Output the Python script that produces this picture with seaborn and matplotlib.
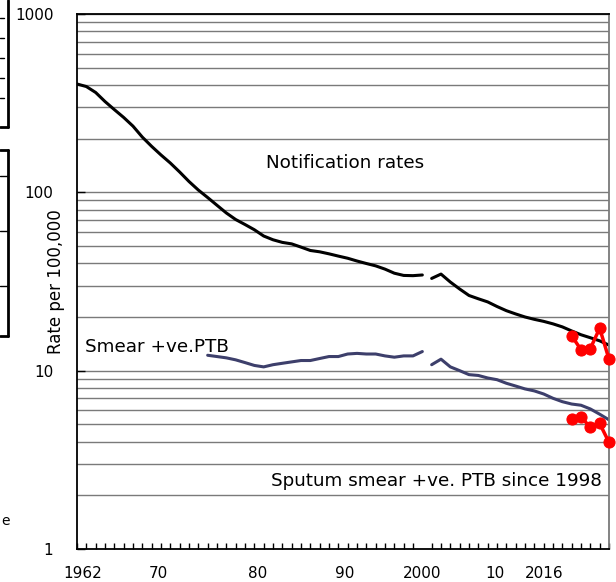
import numpy as np
import pandas as pd
import matplotlib.pyplot as plt
import seaborn as sns
from matplotlib.lines import Line2D
from matplotlib.ticker import LogLocator, FixedLocator, MultipleLocator, NullFormatter

# data: rates per 100,000
years_old = list(range(1962, 2000))
notif_old = [405, 392, 363, 323, 291, 263, 235, 204, 181, 162, 146, 130, 115, 103, 93.5,
             84.6, 76.6, 70.4, 66.0, 61.7, 56.9, 54.2, 52.4, 51.4, 49.3, 47.2, 46.4, 45.2,
             43.9, 42.7, 41.2, 39.9, 38.7, 37.1, 35.2, 34.2, 34.1, 34.4]
years_new = list(range(2000, 2020))
notif_new = [32.9, 34.8, 31.4, 28.7, 26.4, 25.3, 24.3, 22.9, 21.7, 20.8, 20.0, 19.4, 18.9,
             18.3, 17.6, 16.7, 15.9, 15.3, 14.7, 13.9]
smear_years_old = list(range(1976, 2000))
smear_old = [12.2, 12.0, 11.8, 11.5, 11.1, 10.7, 10.5, 10.8, 11.0, 11.2, 11.4, 11.4, 11.7,
             12.0, 12.0, 12.4, 12.5, 12.4, 12.4, 12.1, 11.9, 12.1, 12.1, 12.8]
smear_new = [10.8, 11.6, 10.5, 10.0, 9.5, 9.4, 9.1, 8.9, 8.5, 8.2, 7.9, 7.7, 7.4, 7.0,
             6.7, 6.5, 6.4, 6.1, 5.7, 5.3]
red_years = [2015, 2016, 2017, 2018, 2019]
red_notif = [15.7, 13.1, 13.3, 17.3, 11.6]
red_smear = [5.35, 5.51, 4.81, 5.06, 3.96]

xlabels = ["1962", "70", "80", "90", "2000", "10", "2016"]
xlabel_pos = [1962.6, 1970.7, 1981.3, 1990.7, 1999.0, 2006.8, 2012.1]

sns.set_style("white")
plt.rcParams['font.family'] = ['DejaVu Sans']
plt.rcParams['text.color'] = 'black'
plt.rcParams['xtick.color'] = 'black'
plt.rcParams['ytick.color'] = 'black'

fig = plt.figure(figsize=(6.16, 5.82), dpi=100)
ax = fig.add_axes([77/616, 1-549/582, 532/616, 535/582])

blue = "#3d3f6b"
sns.lineplot(x=years_old, y=notif_old, ax=ax, color="black", lw=2.2)
sns.lineplot(x=years_new, y=notif_new, ax=ax, color="black", lw=2.2)
sns.lineplot(x=smear_years_old, y=smear_old, ax=ax, color=blue, lw=2.2)
sns.lineplot(x=years_new, y=smear_new, ax=ax, color=blue, lw=2.2)
for vals in (red_notif, red_smear):
    sns.lineplot(x=red_years, y=vals, ax=ax, color="red", lw=2.5, marker="o",
                 markersize=8, markeredgecolor="red", clip_on=False, zorder=5)

ax.set_yscale("log")
ax.set_ylim(1, 1000)
ax.set_xlim(1962, 2019)

ax.yaxis.set_major_locator(LogLocator(base=10))
ax.yaxis.set_minor_locator(LogLocator(base=10, subs=np.arange(2, 10)))
ax.yaxis.set_minor_formatter(NullFormatter())
ax.set_yticks([1, 10, 100, 1000])
ax.set_yticklabels(["1", "10", "100", "1000"])
ax.grid(which="both", axis="y", color="#7a7a7a", lw=1)
ax.grid(False, axis="x")
ax.tick_params(axis="y", which="major", direction="in", length=6, width=1,
               pad=17, labelsize=11, left=True, color="black")
ax.tick_params(axis="y", which="minor", length=0)

ax.xaxis.set_major_locator(FixedLocator(xlabel_pos))
ax.set_xticklabels(xlabels)
ax.xaxis.set_minor_locator(MultipleLocator(1))
ax.tick_params(axis="x", which="major", length=0, pad=12, labelsize=11)
ax.tick_params(axis="x", which="minor", direction="in", length=4, width=1,
               bottom=True, color="black")
ax.set_xlabel("")
ax.set_ylabel("")

for s in ["left", "bottom", "top"]:
    ax.spines[s].set_color("black")
    ax.spines[s].set_linewidth(1.3)
ax.spines["right"].set_color("#7a7a7a")
ax.spines["right"].set_linewidth(1.3)

fig.text(56/616, 1-282/582, "Rate per 100,000", rotation=90, ha="center",
         va="center", fontsize=12)
ax.text(1990.7, 146, "Notification rates", ha="center", va="center", fontsize=13.2)
ax.text(1962.9, 13.6, "Smear +ve.PTB", ha="left", va="center", fontsize=13.2)
ax.text(1982.8, 2.41, "Sputum smear +ve. PTB since 1998", ha="left", va="center",
        fontsize=13.2)

# pieces of a neighbouring panel cut off at the left edge
def seg(x0, y0, x1, y1, lw=2):
    fig.add_artist(Line2D([x0/616, x1/616], [1-y0/582, 1-y1/582], color="black", lw=lw))

seg(8, 0, 8, 127)
seg(0, 127, 8, 127)
for yy in (18, 38, 58, 78, 98):
    seg(0, yy, 4, yy, lw=1)
seg(8, 150, 8, 336)
seg(0, 150, 8, 150)
seg(0, 336, 8, 336)
for yy in (176, 231, 286):
    seg(0, yy, 8, yy, lw=1)
fig.text(6/616, 1-521/582, "e", ha="center", va="center", fontsize=10)

fig.savefig("out.png", dpi=100)
